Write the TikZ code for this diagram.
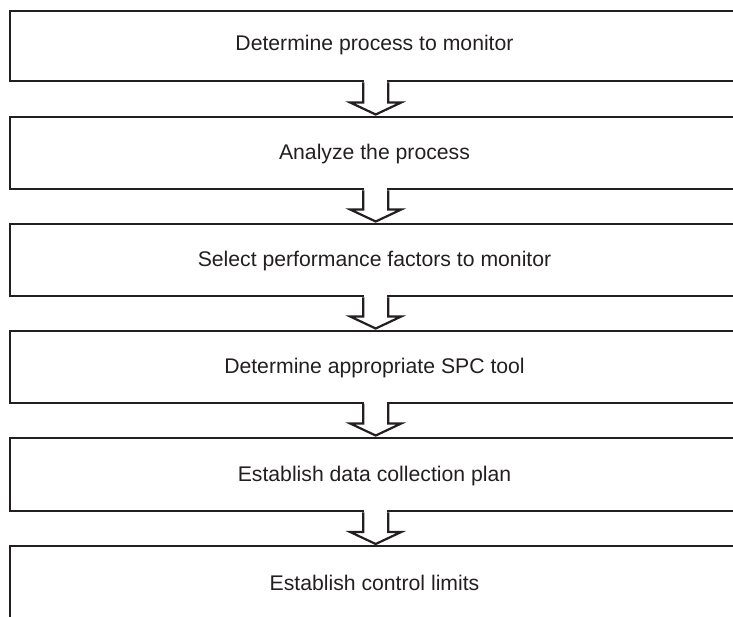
\documentclass[tikz,border=0pt]{standalone}
\usepackage{fontspec}
\setmainfont{Liberation Sans}
\usetikzlibrary{calc}
\definecolor{ink}{HTML}{231F20}
\begin{document}
\begin{tikzpicture}[x=1pt,y=-1pt,
  stepbox/.style={draw=ink, line width=2.4pt, inner sep=0pt, anchor=north west,
    minimum width=731pt, line join=miter},
  steplabel/.style={font=\fontsize{21.2}{25}\selectfont, text=ink, anchor=base, inner sep=0pt},
  flow/.style={draw=ink, line width=2.2pt, line join=miter}]
\useasboundingbox (0,0) rectangle (733,616);
\clip (0,0) rectangle (733,616);

% process steps
\node[stepbox, minimum height=70.5pt] (b1) at (9,9.5) {};
\node[stepbox, minimum height=72.5pt] (b2) at (9,115.5) {};
\node[stepbox, minimum height=72.5pt] (b3) at (9,222.5) {};
\node[stepbox, minimum height=72pt]   (b4) at (9,329.5) {};
\node[stepbox, minimum height=73.5pt] (b5) at (9,436.5) {};
\node[stepbox, minimum height=75pt]   (b6) at (9,545) {};

\node[steplabel] (t1) at (374.5,50.7)  {Determine process to monitor};
\node[steplabel] (t2) at (374.5,159)   {Analyze the process};
\node[steplabel] (t3) at (374.5,266)   {Select performance factors to monitor};
\node[steplabel] (t4) at (374.5,373)   {Determine appropriate SPC tool};
\node[steplabel] (t5) at (374.5,481)   {Establish data collection plan};
\node[steplabel] (t6) at (374.5,590.7) {Establish control limits};

% hollow block arrows joining consecutive steps
\foreach \a/\b in {b1/b2, b2/b3, b3/b4, b4/b5, b5/b6}{
  \fill[white] ($(\a.south)+(-11.3,-2)$) rectangle ($(\a.south)+(11.3,2)$);
  \draw[flow] ($(\a.south)+(-12.5,0)$) -- ($(\b.north)+(-12.5,-13)$)
    -- ($(\b.north)+(-25.5,-13)$) -- ($(\b.north)+(0,-1)$)
    -- ($(\b.north)+(25.5,-13)$) -- ($(\b.north)+(12.5,-13)$)
    -- ($(\a.south)+(12.5,0)$);
}
\end{tikzpicture}
\end{document}
